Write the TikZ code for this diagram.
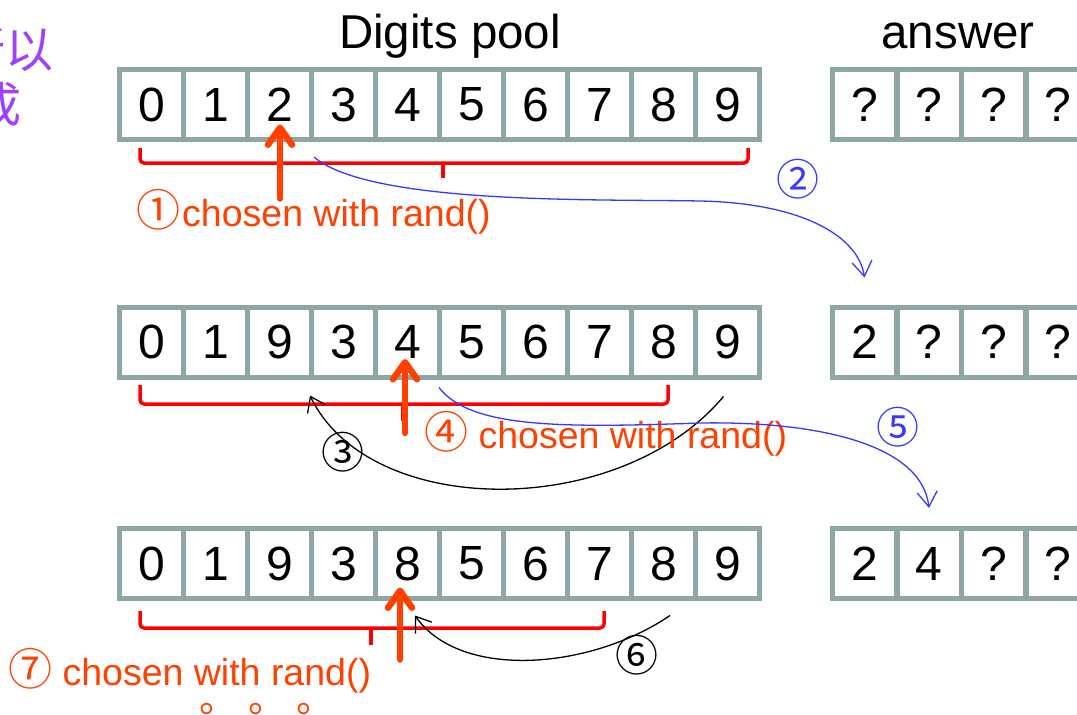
\documentclass[tikz,border=0pt]{standalone}
\usepackage{fontspec}
\setmainfont{Liberation Sans}
\newfontfamily\cjk{Noto Sans CJK SC}
\newcommand\circnumfont{\cjk\fontsize{44}{44}\selectfont}
\usetikzlibrary{arrows.meta,calc}
\definecolor{cellgray}{HTML}{8FA6A6}
\definecolor{pickred}{HTML}{FF4000}
\definecolor{bracered}{HTML}{FF0000}
\definecolor{curveblue}{HTML}{3838FF}
\definecolor{titlepurple}{HTML}{A040FF}
\begin{document}
\begin{tikzpicture}[x=1pt,y=-1pt,
  cell/.style={draw=cellgray,line width=5pt,minimum width=64pt,minimum height=70pt,inner sep=0pt,font=\fontsize{48}{48}\selectfont},
  titletext/.style={anchor=base,inner sep=0pt,font=\fontsize{47.5}{48}\selectfont},
  picklabel/.style={anchor=base west,inner sep=0pt,text=pickred,font=\fontsize{37.5}{38}\selectfont},
  circlbl/.style={inner sep=0pt,font=\cjk\fontsize{43}{43}\selectfont},
  brace/.style={draw=bracered,line width=3.5pt,rounded corners=4pt},
  pickarrow/.style={draw=pickred,line width=6.5pt,line cap=round,-{Straight Barb[length=17pt,width=24pt,round]}},
  movearrow/.style={draw=curveblue,line width=1.3pt,-{Straight Barb[length=15pt,width=20pt]}},
  swaparrow/.style={draw=black,line width=1.3pt,-{Straight Barb[length=14pt,width=20pt]}},
  purpletext/.style={anchor=base east,inner sep=0pt,text=titlepurple,font=\cjk\fontsize{48}{48}\selectfont}
]
\useasboundingbox (0,0) rectangle (1077,715);
\clip (0,0) rectangle (1077,715);

% cut-off text at top left
\node[purpletext] (ptext1) at (54,67) {所以};
\node[purpletext] (ptext2) at (22,122) {完成};

% titles
\node[titletext] (tpool) at (450,48) {Digits pool};
\node[titletext] (tans) at (958,48) {answer};

% row 1
\foreach \d [count=\i from 0] in {0,1,2,3,4,5,6,7,8,9}
  \node[cell] (r1c\i) at ({151.5+64*\i},104.5) {\d};
\foreach \d [count=\i from 0] in {?,?,?,?}
  \node[cell] (a1c\i) at ({864.5+64.5*\i},104.5) {\d};
% row 2
\foreach \d [count=\i from 0] in {0,1,9,3,4,5,6,7,8,9}
  \node[cell] (r2c\i) at ({151.5+64*\i},342) {\d};
\foreach \d [count=\i from 0] in {2,?,?,?}
  \node[cell] (a2c\i) at ({864.5+64.5*\i},342) {\d};
% row 3
\foreach \d [count=\i from 0] in {0,1,9,3,8,5,6,7,8,9}
  \node[cell] (r3c\i) at ({151.5+64*\i},563.5) {\d};
\foreach \d [count=\i from 0] in {2,4,?,?}
  \node[cell] (a3c\i) at ({864.5+64.5*\i},563.5) {\d};

% braces
\draw[brace] (140,148) |- (748,163) -- (748,148);
\draw[brace] (443,163) -- (443,178);
\draw[brace] (140,385) |- (668,404) -- (668,385);
\draw[brace] (403,404) -- (403,421);
\draw[brace] (140,611) |- (604,628) -- (604,611);
\draw[brace] (371,628) -- (371,645);

% step 1
\node[picklabel] (lbl1) at (136,226) {{\circnumfont ①}\hspace{2pt}chosen with rand()};
\coordinate (pa1) at ($(r1c2.center)+(0.5,94)$);
\coordinate (pt1) at ($(r1c2.center)+(0.5,20)$);
\draw[pickarrow] (pa1) -- (pt1);

% step 2
\coordinate (b1s) at ($(r1c2.south east)+(0,15)$);
\coordinate (b1e) at ([yshift=27pt]a2c0.north);
\draw[movearrow] (b1s) .. controls (370,205) and (600,199) .. (700,201)
   .. controls (800,203) and (858,235) .. (b1e);
\node[circlbl,text=curveblue] (n2) at (798,179) {②};

% step 3
\coordinate (s3s) at ($(r2c9.south)+(-4,17)$);
\coordinate (s3e) at ($(r2c2.south east)+(-4,16)$);
\draw[swaparrow] (s3s) .. controls (620,520) and (370,520) .. (s3e);
\node[circlbl] (n3) at (343,452) {③};

% step 4
\node[picklabel] (lbl4) at (424,448) {{\circnumfont ④} chosen with rand()};
\coordinate (pa4) at ($(r2c4.center)+(-2.5,91)$);
\coordinate (pt4) at ($(r2c4.center)+(-2.5,17)$);
\draw[pickarrow] (pa4) -- (pt4);

% step 5
\coordinate (b2s) at ($(r2c4.south east)+(-3,8)$);
\coordinate (b2e) at ([yshift=18pt]a3c1.north);
\draw[movearrow] (b2s) .. controls (470,428) and (560,428) .. (700,423)
   .. controls (820,421) and (922,445) .. (b2e);
\node[circlbl,text=curveblue] (n5) at (898,427) {⑤};

% step 6
\coordinate (s6s) at ($(r3c8.south)+(6.5,14.5)$);
\coordinate (s6e) at ($(r3c4.south)+(7.5,14.5)$);
\draw[swaparrow] (s6s) .. controls (590,670) and (460,680) .. (s6e);
\node[circlbl] (n6) at (637,655) {⑥};

% step 7
\node[picklabel] (lbl7) at (8,685) {{\circnumfont ⑦} chosen with rand()};
\coordinate (pa7) at ($(r3c4.center)+(-7.5,96)$);
\coordinate (pt7) at ($(r3c4.center)+(-7.5,24)$);
\draw[pickarrow] (pa7) -- (pt7);

\node[anchor=base west,inner sep=0pt,text=pickred,font=\cjk\fontsize{38}{38}\selectfont] (dots) at (199.5,712) {。\hspace{10.5pt}。\hspace{10.5pt}。};
\end{tikzpicture}
\end{document}
